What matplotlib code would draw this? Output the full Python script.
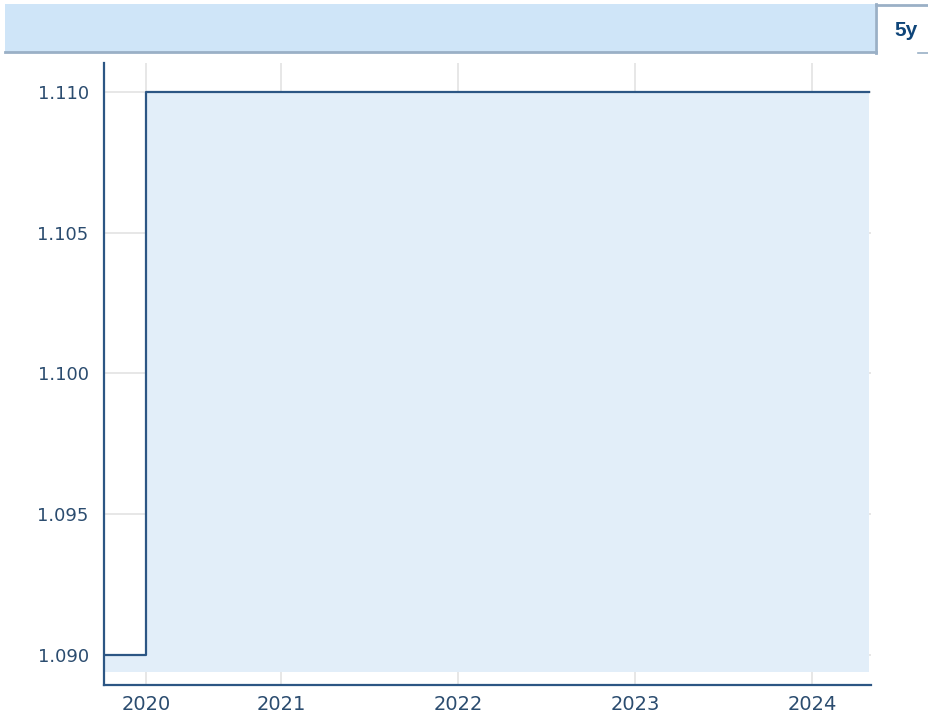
import matplotlib.pyplot as plt
import numpy as np
from matplotlib.patches import Rectangle
from matplotlib.lines import Line2D

W, H = 929, 713

# fractional years
dates = [2020.0, 2020.237, 2024.32]
values = [1.090, 1.110, 1.110]
fill_base = 1.0894

x_ticks = [2020.237, 2021, 2022, 2023, 2024]
x_labels = ['2020', '2021', '2022', '2023', '2024']
y_ticks = [1.090, 1.095, 1.100, 1.105, 1.110]
y_labels = ['1.090', '1.095', '1.100', '1.105', '1.110']

LINE = '#2c5684'
FILL = '#e2eef9'
TEXT = '#2b4c6f'
BORDER = '#9ab0c6'

fig = plt.figure(figsize=(W / 100, H / 100), dpi=100)
tf = fig.transFigure

# header bar with the range tab
fig.patches.append(Rectangle((5 / W, 1 - 52 / H), 870 / W, 48 / H, transform=tf,
                             facecolor='#cfe5f8', edgecolor='none', zorder=0))
fig.lines.append(Line2D([5 / W, 876 / W], [1 - 52 / H] * 2, transform=tf, color=BORDER, lw=2))
fig.lines.append(Line2D([876 / W] * 2, [1 - 53 / H, 1 - 4 / H], transform=tf, color=BORDER, lw=2))
fig.lines.append(Line2D([876 / W, 1.0], [1 - 5 / H] * 2, transform=tf, color=BORDER, lw=2))
fig.lines.append(Line2D([918 / W, 1.0], [1 - 53 / H] * 2, transform=tf, color=BORDER, lw=1.2))
fig.text(906.5 / W, 1 - 35.5 / H, '5y', ha='center', va='baseline', fontsize=15,
         fontweight='bold', color='#0f4579', family='Liberation Sans')

ax = fig.add_axes([104 / W, 1 - 685 / H, 767 / W, 622 / H])

# step outline built from the data
xs = np.repeat(dates, 2)[1:]
ys = np.repeat(values, 2)[:-1]
ax.fill_between(xs, ys, fill_base, color=FILL, lw=0, zorder=1)
ax.plot(xs, ys, color=LINE, lw=1.6, zorder=3)

ax.set_xlim(2020.0, 2024.333)
ax.set_ylim(1.08893, 1.11103)
ax.set_xticks(x_ticks, x_labels)
ax.set_yticks(y_ticks, y_labels)
ax.grid(True, color='#e3e3e3', lw=1.2, zorder=0)
ax.set_axisbelow(True)

for s in ['top', 'right']:
    ax.spines[s].set_visible(False)
for s in ['left', 'bottom']:
    ax.spines[s].set_color(LINE)
    ax.spines[s].set_linewidth(1.6)

ax.tick_params(length=0, labelcolor=TEXT)
ax.tick_params(axis='y', labelsize=13, pad=11)
ax.tick_params(axis='x', labelsize=14, pad=7)

fig.savefig('out.png', dpi=100)
